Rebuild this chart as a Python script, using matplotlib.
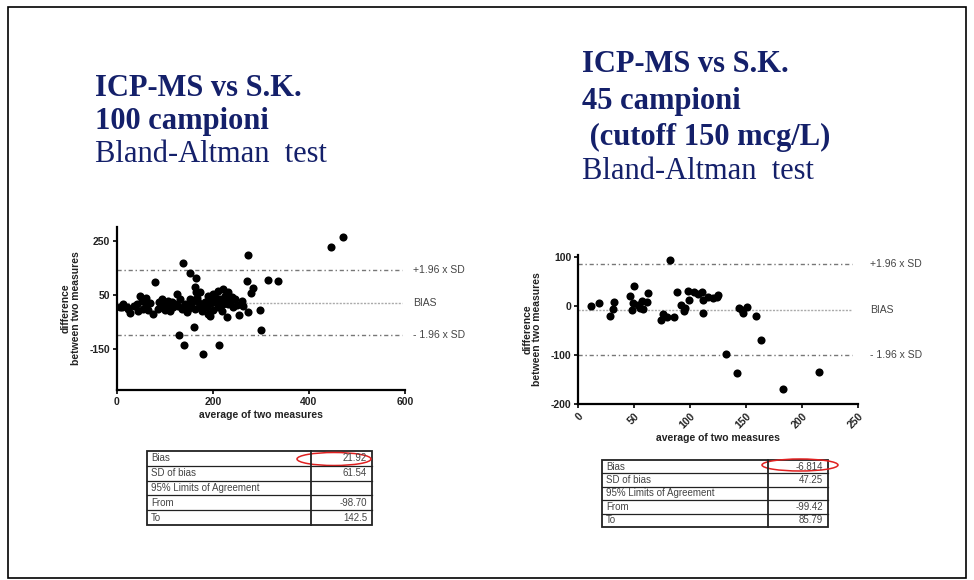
import matplotlib
matplotlib.use("Agg")
import matplotlib.pyplot as plt
from matplotlib.patches import Rectangle, Ellipse

plt.rcParams["axes.unicode_minus"] = False

# ---------------- data ----------------
left_x = [472, 446, 274, 139, 153, 165, 80, 271, 315, 336, 284, 279, 163, 125, 160, 300, 129, 140, 213, 180,
          298, 274, 255, 229, 260, 76, 28, 10, 21, 165, 48, 14, 24, 7, 42, 52, 55, 45, 62, 87,
          97, 90, 107, 111, 104, 121, 132, 142, 149, 146, 152, 155, 170, 173, 177, 194, 201, 211, 222, 232,
          239, 225, 215, 205, 184, 187, 191, 211, 222, 232, 243, 246, 218, 173, 35, 58, 65, 70, 85, 95,
          100, 115, 118, 128, 135, 160, 163, 168, 180, 190, 197, 200, 207, 220, 228, 236, 250, 195, 262, 60]
left_y = [262, 225, 198, 166, 131, 111, 97, 100, 106, 100, 75, 56, 78, 54, -69, -78, -97, -134, -133, -167,
          -6, -12, -25, -31, 29, -20, -18, 5, 5, 60, 47, 17, -2, 5, 17, 29, -2, -8, 11, 23,
          17, 5, 29, -8, 11, 17, 35, 17, -2, -14, 35, 17, 23, 5, -8, 35, 54, 66, 72, 60,
          41, 47, 35, 23, 23, 5, -20, 5, 17, 17, 5, 35, 28, 60, 10, 30, -5, 20, 0, 35,
          -5, 25, 5, 10, -3, 30, 0, 40, 12, 45, 20, -5, 38, -10, 33, 25, 12, -28, 10, 40]

right_x = [11, 18.5, 32, 31, 28, 46, 50, 47.6, 49, 53, 55, 58, 62.5, 61, 74, 76, 79, 82, 85, 88,
           92, 94, 95, 98, 99, 103, 107, 110, 111.6, 111.6, 116, 120.5, 123.5, 125, 131.5, 142, 143.7, 146, 147.3, 151,
           159, 163, 183, 215, 57]
right_y = [1, 6, 8, -6, -19, 22, 42, -8, 6, 2, -4, -6, 28, 9, -28, -16, -21, 95, -21, 30,
           2, -10, -4, 31, 13, 30, 26, 30, 13, -14, 20, 16, 20, 23, -98, -136, -4, -8, -13, -2,
           -20, -70, -170, -134, 10]

left_stats = {"bias": 21.92, "low": -98.70, "high": 142.5}
right_stats = {"bias": -6.814, "low": -99.42, "high": 85.79}

left_table_labels = ["Bias", "SD of bias", "95% Limits of Agreement", "From", "To"]
left_table_values = ["21.92", "61.54", "", "-98.70", "142.5"]
right_table_labels = ["Bias", "SD of bias", "95% Limits of Agreement", "From", "To"]
right_table_values = ["-6.814", "47.25", "", "-99.42", "85.79"]

left_title = ["ICP-MS vs S.K.", "100 campioni", "Bland-Altman  test"]
right_title = ["ICP-MS vs S.K.", "45 campioni", " (cutoff 150 mcg/L)", "Bland-Altman  test"]

line_labels = ["+1.96 x SD", "BIAS", "- 1.96 x SD"]

# ---------------- figure ----------------
W, H = 974, 580
fig = plt.figure(figsize=(W / 100, H / 100), dpi=100)
fig.patch.set_facecolor("white")

def fx(px):
    return px / W

def fy(py):
    return 1 - py / H

# outer border
fig.add_artist(Rectangle((fx(8), fy(578)), fx(966) - fx(8), fy(7) - fy(578),
                         fill=False, edgecolor="black", lw=1.2, transform=fig.transFigure))

navy = "#14206a"
serif = ["Liberation Serif", "DejaVu Serif"]

def titles(lines, x0, ys, bold_flags):
    for t, y, b in zip(lines, ys, bold_flags):
        fig.text(fx(x0), fy(y), t, family=serif, fontsize=22,
                 fontweight="bold" if b else "normal", color=navy, va="center", ha="left")

titles(left_title, 95, [88, 121, 155], [True, True, False])
titles(right_title, 582, [65, 101, 137, 172], [True, True, True, False])

sans = ["Liberation Sans", "DejaVu Sans"]

def ba_axes(rect_px, xs, ys, stats, xlim, ylim, xticks, yticks, rot, line_x_end, label_px):
    l, t, r, b = rect_px
    ax = fig.add_axes([fx(l), fy(b), fx(r) - fx(l), fy(t) - fy(b)])
    ax.scatter(xs, ys, s=34, color="black", zorder=3, linewidths=0)
    ax.plot([xlim[0], line_x_end], [stats["high"]] * 2, color="#777777", lw=1.0,
            linestyle=(0, (3, 2, 1, 2)))
    ax.plot([xlim[0], line_x_end], [stats["low"]] * 2, color="#777777", lw=1.0,
            linestyle=(0, (3, 2, 1, 2)))
    ax.plot([xlim[0], line_x_end], [stats["bias"]] * 2, color="#aaaaaa", lw=1.0,
            linestyle=(0, (1.5, 1)))
    ax.set_xlim(*xlim)
    ax.set_ylim(*ylim)
    ax.set_xticks(xticks)
    ax.set_yticks(yticks)
    for s in ["top", "right"]:
        ax.spines[s].set_visible(False)
    for s in ["left", "bottom"]:
        ax.spines[s].set_linewidth(1.6)
    ax.tick_params(direction="out", length=3, width=1.2, labelsize=7.5, pad=2)
    for lab in ax.get_xticklabels() + ax.get_yticklabels():
        lab.set_fontweight("bold")
        lab.set_family(sans)
        lab.set_color("#222222")
    if rot:
        for lab in ax.get_xticklabels():
            lab.set_rotation(45)
            lab.set_ha("right")
            lab.set_va("top")
            lab.set_rotation_mode("anchor")
    ax.set_xlabel("average of two measures", fontsize=7.5, fontweight="bold", family=sans,
                  color="#222222", labelpad=2)
    ax.set_ylabel("difference\nbetween two measures", fontsize=7.5, fontweight="bold", family=sans,
                  color="#222222", labelpad=6, linespacing=1.0)
    for lab, val in zip(line_labels, [stats["high"], stats["bias"], stats["low"]]):
        ax.text(label_px, val, lab, transform=ax.get_yaxis_transform(), fontsize=7.5,
                family=sans, color="#444444", va="center", ha="left", clip_on=False)
    return ax

# left plot: axes px (l, t, r, b)
lw_ = 405 - 116.7
ba_axes((116.7, 227, 405, 390), left_x, left_y, left_stats, (0, 600), (-300, 300),
        [0, 200, 400, 600], [-150, 50, 250], False, 594, (413 - 116.7) / lw_)

rw_ = 858.3 - 578.3
ba_axes((578.3, 255, 858.3, 404), right_x, right_y, right_stats, (0, 250), (-200, 105),
        [0, 50, 100, 150, 200, 250], [-200, -100, 0, 100], True, 244, (870 - 578.3) / rw_)

# tables
def table(x0, x1, xsplit, y0, y1, labels, values, ell):
    n = len(labels)
    rh = (y1 - y0) / n
    fig.add_artist(Rectangle((fx(x0), fy(y1)), fx(x1) - fx(x0), fy(y0) - fy(y1), fill=False,
                             edgecolor="#222222", lw=1.3, transform=fig.transFigure))
    fig.add_artist(plt.Line2D([fx(xsplit)] * 2, [fy(y0), fy(y1)], color="#222222", lw=1.3,
                              transform=fig.transFigure))
    for i in range(1, n):
        yy = y0 + i * rh
        fig.add_artist(plt.Line2D([fx(x0), fx(x1)], [fy(yy)] * 2, color="#222222", lw=0.9,
                                  transform=fig.transFigure))
    for i, (lab, val) in enumerate(zip(labels, values)):
        yc = y0 + (i + 0.5) * rh
        fig.text(fx(x0 + 4), fy(yc), lab, fontsize=7, family=sans, color="#444444",
                 va="center", ha="left")
        fig.text(fx(x1 - 5), fy(yc), val, fontsize=7, family=sans, color="#444444",
                 va="center", ha="right")
    ex, ey, ew, eh = ell
    fig.add_artist(Ellipse((fx(ex), fy(ey)), fx(ew), eh / H, fill=False, edgecolor="#e02020",
                           lw=1.1, transform=fig.transFigure))

table(147, 372, 311, 451, 525, left_table_labels, left_table_values, (334, 459, 74, 13))
table(602, 828, 768, 460, 527, right_table_labels, right_table_values, (800, 465, 76, 12))

fig.savefig("out.png", dpi=100, facecolor="white")
